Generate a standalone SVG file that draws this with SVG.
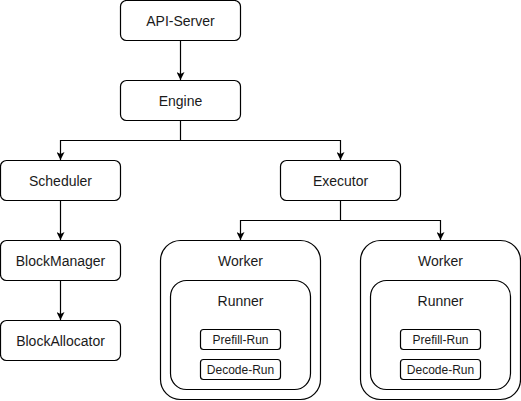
<svg xmlns="http://www.w3.org/2000/svg" width="521" height="401" viewBox="0 0 521 401">
<style>
.box{fill:#fff;stroke:#000;stroke-width:1.2}
.t{font-family:"Liberation Sans",Arial,sans-serif;font-size:14px;fill:#1a1a1a;text-anchor:middle;dominant-baseline:central}
.s{font-size:12px}
.c{fill:none;stroke:#000;stroke-width:1.2}
</style>
<defs>
<marker id="ah" viewBox="0 0 10 10" refX="10" refY="5" markerWidth="8" markerHeight="8" markerUnits="userSpaceOnUse" orient="auto">
<path d="M0,0 L10,5 L0,10 L2.5,5 Z" fill="#000"/>
</marker>
</defs>
<rect width="521" height="401" fill="#fff"/>
<g id="connectors">
<path class="c" d="M180.5,40.5 V80" marker-end="url(#ah)"/>
<path class="c" d="M180.5,120.5 V140.5 H60.5 V160" marker-end="url(#ah)"/>
<path class="c" d="M180.5,140.5 H340.5 V160" marker-end="url(#ah)"/>
<path class="c" d="M60.5,200.5 V240" marker-end="url(#ah)"/>
<path class="c" d="M60.5,280.5 V320" marker-end="url(#ah)"/>
<path class="c" d="M340.5,200.5 V220.5 H240.5 V240" marker-end="url(#ah)"/>
<path class="c" d="M340.5,220.5 H440.5 V240" marker-end="url(#ah)"/>
</g>
<g id="api-server"><rect class="box" x="120.5" y="0.5" width="120" height="40" rx="6"/><text class="t" x="180.5" y="20.5">API-Server</text></g>
<g id="engine"><rect class="box" x="120.5" y="80.5" width="120" height="40" rx="6"/><text class="t" x="180.5" y="100.5">Engine</text></g>
<g id="scheduler"><rect class="box" x="0.5" y="160.5" width="120" height="40" rx="6"/><text class="t" x="60.5" y="180.5">Scheduler</text></g>
<g id="executor"><rect class="box" x="280.5" y="160.5" width="120" height="40" rx="6"/><text class="t" x="340.5" y="180.5">Executor</text></g>
<g id="blockmanager"><rect class="box" x="0.5" y="240.5" width="120" height="40" rx="6"/><text class="t" x="60.5" y="260.5">BlockManager</text></g>
<g id="blockallocator"><rect class="box" x="0.5" y="320.5" width="120" height="40" rx="6"/><text class="t" x="60.5" y="340.5">BlockAllocator</text></g>
<g id="worker1">
<rect class="box" x="160.5" y="240.5" width="160" height="159" rx="20"/>
<text class="t" x="240.5" y="261">Worker</text>
<g id="runner1">
<rect class="box" x="170.5" y="280.5" width="140" height="109" rx="16"/>
<text class="t" x="240.5" y="301">Runner</text>
<g id="prefill1"><rect class="box" x="200.5" y="329.5" width="80" height="20" rx="3"/><text class="t s" x="240.5" y="339.5">Prefill-Run</text></g>
<g id="decode1"><rect class="box" x="200.5" y="359.5" width="80" height="20" rx="3"/><text class="t s" x="240.5" y="369.5">Decode-Run</text></g>
</g>
</g>
<g id="worker2">
<rect class="box" x="360.5" y="240.5" width="160" height="159" rx="20"/>
<text class="t" x="440.5" y="261">Worker</text>
<g id="runner2">
<rect class="box" x="370.5" y="280.5" width="140" height="109" rx="16"/>
<text class="t" x="440.5" y="301">Runner</text>
<g id="prefill2"><rect class="box" x="400.5" y="329.5" width="80" height="20" rx="3"/><text class="t s" x="440.5" y="339.5">Prefill-Run</text></g>
<g id="decode2"><rect class="box" x="400.5" y="359.5" width="80" height="20" rx="3"/><text class="t s" x="440.5" y="369.5">Decode-Run</text></g>
</g>
</g>
</svg>
